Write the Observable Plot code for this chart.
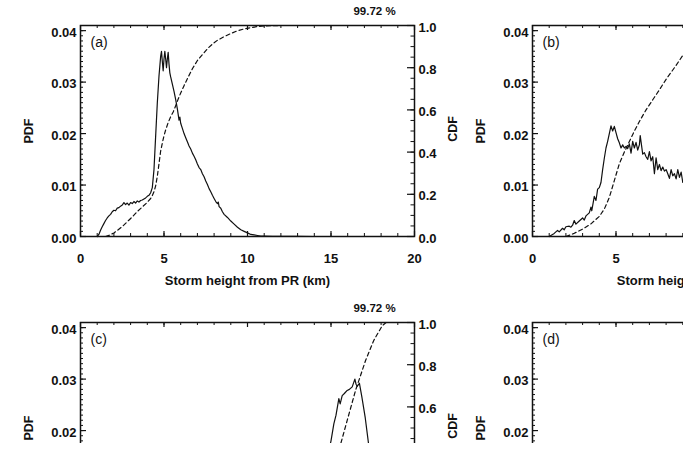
<!DOCTYPE html>
<html>
<head>
<meta charset="utf-8">
<script src="https://cdn.jsdelivr.net/npm/d3@7"></script>
<script src="https://cdn.jsdelivr.net/npm/@observablehq/plot@0.6"></script>
<style>
  html, body { margin: 0; padding: 0; background: #fff; }
  #wrap { position: relative; width: 683px; height: 443px; overflow: hidden; background: #fff; }
  #wrap svg { position: absolute; overflow: visible; }
</style>
</head>
<body>
<div id="wrap"></div>
<script>
// ---- tick labels & texts ----
const xTicks = [0, 5, 10, 15, 20];
const pdfTicks = [0, 0.01, 0.02, 0.03, 0.04];
const cdfTicks = [0, 0.2, 0.4, 0.6, 0.8, 1.0];
const panelLabels = ["(a)", "(b)", "(c)", "(d)"];
const pctLabel = "99.72 %";
const xTitle = "Storm height from PR (km)";
const yTitle = "PDF";
const y2Title = "CDF";

// ---- panel (a) ----
const pdfHeightA = [1.0,1.1,1.2,1.3,1.4,1.5,1.6,1.7,1.8,1.9,2.0,2.1,2.2,2.3,2.4,2.5,2.6,2.7,2.8,2.9,3.0,3.1,3.2,3.3,3.4,3.5,3.6,3.7,3.8,3.9,4.0,4.1,4.2,4.3,4.4,4.5,4.6,4.7,4.8,4.85,4.9,4.95,5.0,5.05,5.1,5.15,5.2,5.25,5.3,5.35,5.4,5.5,5.6,5.7,5.8,5.9,5.95,6.0,6.1,6.2,6.3,6.4,6.5,6.6,6.7,6.8,6.9,7.0,7.1,7.2,7.3,7.4,7.5,7.6,7.7,7.8,7.9,8.0,8.1,8.2,8.25,8.3,8.4,8.5,8.6,8.8,9.0,9.2,9.4,9.6,9.8,10.0,10.2,10.4,10.6,10.8,11.0,11.5,12,13,14,16,18,20];
const pdfA = [0.0000,0.0004,0.0012,0.0019,0.0025,0.0031,0.0036,0.0040,0.0043,0.0048,0.0051,0.0050,0.0055,0.0056,0.0059,0.0061,0.0066,0.0062,0.0065,0.0061,0.0066,0.0064,0.0068,0.0065,0.0069,0.0067,0.0070,0.0071,0.0073,0.0075,0.0078,0.0080,0.0085,0.0095,0.0130,0.0195,0.0260,0.0312,0.0350,0.0360,0.0340,0.0322,0.0345,0.0360,0.0345,0.0328,0.0345,0.0358,0.0335,0.0318,0.0310,0.0296,0.0282,0.0266,0.0248,0.0226,0.0232,0.0220,0.0210,0.0200,0.0192,0.0184,0.0176,0.0170,0.0162,0.0156,0.0149,0.0141,0.0134,0.0130,0.0122,0.0116,0.0108,0.0101,0.0093,0.0087,0.0080,0.0074,0.0068,0.0064,0.0067,0.0058,0.0055,0.0048,0.0043,0.0037,0.0030,0.0024,0.0018,0.0013,0.0010,0.0007,0.0004,0.0003,0.0002,0.0001,0.0001,0.00005,0.00003,0.00001,0,0,0,0];
const cdfHeightA = [1.5,1.7,2.0,2.2,2.5,2.8,3.1,3.4,3.7,4.0,4.2,4.3,4.4,4.5,4.6,4.7,4.8,4.9,5.0,5.1,5.25,5.4,5.55,5.7,5.85,6.0,6.2,6.4,6.7,7.0,7.3,7.6,7.9,8.2,8.6,9.0,9.4,9.8,10.2,10.6,11.0,11.5,12,14,16,18,20];
const cdfA = [0.0,0.005,0.017,0.028,0.047,0.070,0.093,0.118,0.140,0.162,0.180,0.194,0.212,0.240,0.285,0.345,0.405,0.443,0.478,0.505,0.540,0.568,0.590,0.620,0.652,0.680,0.715,0.748,0.795,0.834,0.862,0.890,0.912,0.930,0.947,0.962,0.975,0.984,0.990,0.995,0.998,0.999,1.0,1.0,1.0,1.0,1.0];

// ---- panel (b) ----
const pdfHeightB = [1.0,1.1,1.3,1.5,1.6,1.8,1.9,2.0,2.2,2.3,2.4,2.5,2.6,2.8,3.0,3.1,3.2,3.4,3.5,3.55,3.7,3.8,3.9,4.0,4.1,4.2,4.3,4.4,4.5,4.6,4.7,4.8,4.9,5.0,5.1,5.2,5.3,5.4,5.5,5.6,5.7,5.8,5.9,6.0,6.1,6.2,6.3,6.4,6.45,6.6,6.7,6.8,6.9,7.0,7.1,7.2,7.3,7.4,7.5,7.6,7.7,7.8,7.9,8.0,8.1,8.2,8.3,8.4,8.5,8.6,8.7,8.8,8.9,9.0,9.2];
const pdfB = [0,0.0002,0.0006,0.0012,0.0009,0.0016,0.0013,0.0019,0.0020,0.0018,0.0022,0.0031,0.0024,0.0030,0.0036,0.0032,0.0040,0.0046,0.0057,0.0050,0.0078,0.0070,0.0092,0.0095,0.0105,0.0130,0.0152,0.0172,0.0185,0.0200,0.0215,0.0205,0.0214,0.0202,0.0190,0.0182,0.0172,0.0178,0.0172,0.0175,0.0171,0.0180,0.0162,0.0185,0.0172,0.0183,0.0168,0.0178,0.0196,0.0160,0.0163,0.0155,0.0150,0.0165,0.0147,0.0155,0.0122,0.0153,0.0130,0.0140,0.0128,0.0135,0.0127,0.0130,0.0122,0.0113,0.0130,0.0118,0.0122,0.0112,0.0130,0.0115,0.0125,0.0105,0.0110];
const cdfHeightB = [2.0,2.5,3.0,3.5,4.0,4.3,4.6,4.9,5.2,5.5,5.8,6.1,6.4,6.8,7.2,7.6,8.0,8.5,9.0,9.2];
const cdfB = [0.0,0.015,0.035,0.060,0.095,0.130,0.185,0.265,0.345,0.400,0.450,0.500,0.545,0.600,0.648,0.695,0.745,0.800,0.858,0.880];

// ---- panel (c) ----
const pdfHeightC = [14.6,14.87,15.0,15.17,15.3,15.47,15.55,15.67,15.8,15.97,16.1,16.27,16.43,16.5,16.57,16.7,16.85,17.05,17.25,17.4];
const pdfC = [0.0120,0.0160,0.0180,0.0213,0.0230,0.0262,0.0252,0.0268,0.0272,0.0278,0.0280,0.0285,0.0300,0.0290,0.0286,0.0292,0.0265,0.0225,0.0174,0.0130];
const cdfHeightC = [15.2,15.47,15.97,16.47,17.07,17.56,18.07,18.3,20];
const cdfC = [0.30,0.393,0.536,0.678,0.82,0.915,0.985,1.0,1.0];

// ---- panel (d): nothing visible in the cropped view ----
const pdfHeightD = [], pdfD = [], cdfHeightD = [], cdfD = [];

const yMax = 0.041;          // top of the PDF axis
const toY = c => c * yMax;   // CDF (right axis) -> PDF scale
const ink = "#111";
const font = "'Liberation Sans', Arial, Helvetica, sans-serif";

function panel({label, pdfH, pdfV, cdfH, cdfV, pct}) {
  const pxX = 334 / 20, pxY = 211 / yMax;
  const minorX = d3.range(0, 20.01, 1);
  const minorY = d3.range(0, 0.0405, 0.001);
  const minorC = d3.range(0, 1.001, 0.05);
  const marks = [
    Plot.line(pdfV, {x: pdfH, y: pdfV, stroke: ink, strokeWidth: 1.2}),
    Plot.line(cdfV, {x: cdfH, y: cdfV.map(toY), stroke: ink, strokeWidth: 1.2, strokeDasharray: "4,3"}),
    Plot.ruleY(minorY, {y: d => d, x1: 0, x2: 3 / pxX, stroke: ink, strokeWidth: 1}),
    Plot.ruleY(pdfTicks, {y: d => d, x1: 0, x2: 6 / pxX, stroke: ink, strokeWidth: 1.2}),
    Plot.ruleY(minorC, {y: toY, x1: 20, x2: 20 - 3.5 / pxX, stroke: ink, strokeWidth: 1}),
    Plot.ruleY(cdfTicks, {y: toY, x1: 20, x2: 20 - 7 / pxX, stroke: ink, strokeWidth: 1.2}),
    Plot.ruleX(minorX, {x: d => d, y1: 0, y2: 3 / pxY, stroke: ink, strokeWidth: 1}),
    Plot.ruleX(xTicks, {x: d => d, y1: 0, y2: 5 / pxY, stroke: ink, strokeWidth: 1.2}),
    Plot.ruleX(minorX, {x: d => d, y1: yMax, y2: yMax - 3 / pxY, stroke: ink, strokeWidth: 1}),
    Plot.ruleX(xTicks, {x: d => d, y1: yMax, y2: yMax - 5 / pxY, stroke: ink, strokeWidth: 1.2}),
    Plot.frame({stroke: ink, strokeWidth: 1.5}),
    Plot.text(pdfTicks, {y: d => d, frameAnchor: "left", text: d => d.toFixed(2), textAnchor: "end", dx: -4, dy: 2, fontWeight: "bold", fontSize: 13, fill: ink}),
    Plot.text(cdfTicks, {y: toY, frameAnchor: "right", text: d => d.toFixed(1), textAnchor: "start", dx: 4, dy: 2, fontWeight: "bold", fontSize: 13, fill: ink}),
    Plot.text(xTicks, {x: d => d, frameAnchor: "bottom", text: d => String(d), dy: 22, lineAnchor: "middle", fontWeight: "bold", fontSize: 13, fill: ink}),
    Plot.text([xTitle], {frameAnchor: "bottom", text: d => d, dy: 44, lineAnchor: "middle", fontWeight: "bold", fontSize: 13, fill: ink}),
    Plot.text([yTitle], {frameAnchor: "left", text: d => d, rotate: -90, textAnchor: "middle", dx: -52, dy: 0, lineAnchor: "middle", fontWeight: "bold", fontSize: 12.5, fill: ink}),
    Plot.text([y2Title], {frameAnchor: "right", text: d => d, rotate: -90, textAnchor: "middle", dx: 38, dy: -2, lineAnchor: "middle", fontWeight: "bold", fontSize: 12.5, fill: ink}),
    Plot.text([label], {frameAnchor: "top-left", text: d => d, dx: 10, dy: 17, textAnchor: "start", lineAnchor: "middle", fontSize: 14, fill: ink})
  ];
  if (pct) marks.push(Plot.text([pct], {frameAnchor: "top-right", text: d => d, dx: -40, dy: -14, textAnchor: "middle", lineAnchor: "middle", fontWeight: "bold", fontSize: 11.5, fill: ink}));
  return Plot.plot({
    width: 470, height: 297,
    marginLeft: 80, marginRight: 56, marginTop: 25, marginBottom: 61,
    x: {domain: [0, 20], axis: null},
    y: {domain: [0, yMax], axis: null},
    style: {fontFamily: font, fontSize: "13px", color: ink, background: "transparent", overflow: "visible"},
    marks
  });
}

const wrap = document.getElementById("wrap");
const panels = [
  {label: panelLabels[0], pdfH: pdfHeightA, pdfV: pdfA, cdfH: cdfHeightA, cdfV: cdfA, pct: pctLabel, left: 0, top: 0},
  {label: panelLabels[1], pdfH: pdfHeightB, pdfV: pdfB, cdfH: cdfHeightB, cdfV: cdfB, pct: null, left: 452, top: 0},
  {label: panelLabels[2], pdfH: pdfHeightC, pdfV: pdfC, cdfH: cdfHeightC, cdfV: cdfC, pct: pctLabel, left: 0, top: 297},
  {label: panelLabels[3], pdfH: pdfHeightD, pdfV: pdfD, cdfH: cdfHeightD, cdfV: cdfD, pct: null, left: 452, top: 297}
];
for (const p of panels) {
  const svg = panel(p);
  svg.style.left = p.left + "px";
  svg.style.top = p.top + "px";
  svg.style.position = "absolute";
  svg.style.maxWidth = "none";
  wrap.appendChild(svg);
}
</script>
</body>
</html>
